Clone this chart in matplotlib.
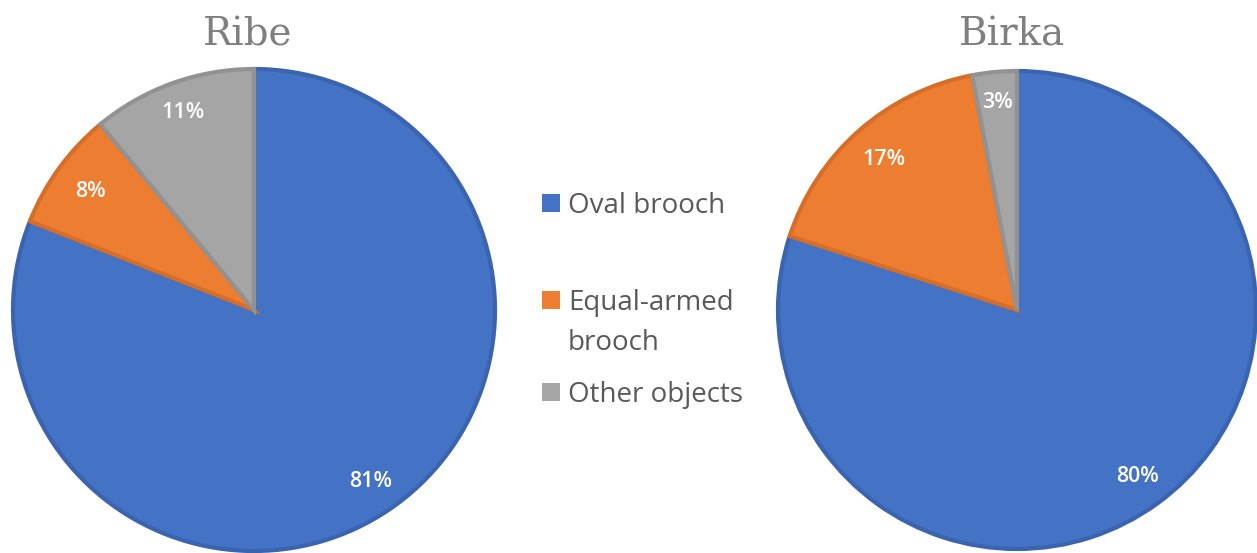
import matplotlib
matplotlib.use("Agg")
import matplotlib.pyplot as plt
import numpy as np

categories = ["Oval brooch", "Equal-armed\nbrooch", "Other objects"]
ribe_values = [81, 8, 11]
birka_values = [80, 17, 3]
titles = ["Ribe", "Birka"]

colors = ["#4472C4", "#ED7D31", "#A5A5A5"]
edge_colors = ["#3A64B0", "#D76E27", "#929292"]
label_dist = [0.86, 0.84, 0.87]

W, H = 1257, 553
fig = plt.figure(figsize=(W / 100, H / 100), dpi=100)

def add_pie(cx, cy, r, tx, values, title):
    ax = fig.add_axes([(cx - r) / W, (H - cy - r) / H, 2 * r / W, 2 * r / H])
    wedges, _ = ax.pie(values, colors=colors, startangle=90, counterclock=False,
                       radius=1.0, wedgeprops=dict(linewidth=3))
    for w, ec in zip(wedges, edge_colors):
        w.set_edgecolor(ec)
    total = sum(values)
    for w, v, d in zip(wedges, values, label_dist):
        ang = np.deg2rad((w.theta1 + w.theta2) / 2)
        ax.text(d * np.cos(ang), d * np.sin(ang), f"{round(100 * v / total)}%",
                ha="center", va="center", color="white", fontsize=15.5,
                fontfamily="Open Sans", fontweight="semibold")
    ax.set_xlim(-1.0, 1.0)
    ax.set_ylim(-1.0, 1.0)
    ax.set_aspect("equal")
    ax.axis("off")
    fig.text(tx / W, 1 - 45 / H, title, ha="center", va="baseline",
             fontsize=28, color="#7F7F7F", fontfamily="DejaVu Serif")

add_pie(254, 310, 241, 248, ribe_values, titles[0])
add_pie(1017, 310, 239, 1012, birka_values, titles[1])

first_baselines = [213, 310, 402]
line_gap = 40
for c, lab, yb in zip(colors, categories, first_baselines):
    fig.patches.append(plt.Rectangle((542 / W, 1 - (yb - 1) / H), 18 / W, 18 / H,
                                     transform=fig.transFigure, facecolor=c,
                                     edgecolor="none"))
    for i, line in enumerate(lab.split("\n")):
        fig.text(568 / W, 1 - (yb + i * line_gap) / H, line, ha="left",
                 va="baseline", fontsize=20, color="#595959",
                 fontfamily="Open Sans")

fig.savefig("out.png", dpi=100, facecolor="white")
